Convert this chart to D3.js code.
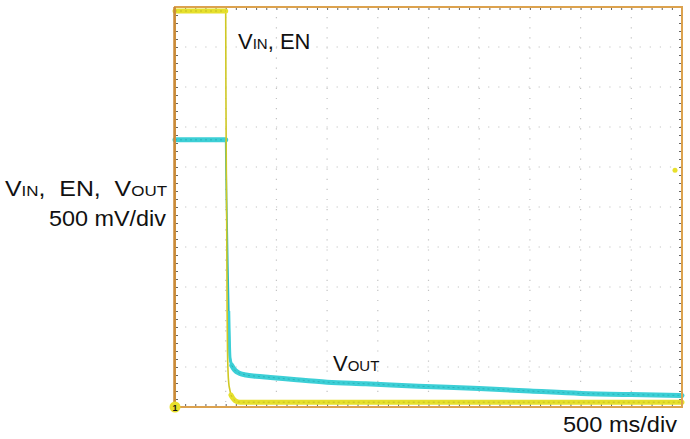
<!DOCTYPE html>
<html>
<head>
<meta charset="utf-8">
<script src="https://cdn.jsdelivr.net/npm/d3@7"></script>
<style>
  html, body { margin: 0; padding: 0; background: #fff; }
  svg { display: block; }
  text { font-family: "Liberation Sans", Arial, sans-serif; fill: #111; }
</style>
</head>
<body>
<div id="chart"></div>
<script>
// ---- data (time in ms, voltage in V) ----
const timeDomain = [0, 5000];      // 10 div x 500 ms/div
const voltDomain = [0, 5];         // 10 div x 500 mV/div
const xDivisions = [0, 500, 1000, 1500, 2000, 2500, 3000, 3500, 4000, 4500, 5000];
const yDivisions = [0, 0.5, 1, 1.5, 2, 2.5, 3, 3.5, 4, 4.5, 5];

// VIN / EN trace (yellow), clipped at top of screen before the fall
const enTime = [0, 500, 502, 506, 510, 514, 518, 523, 530, 540, 552, 570, 592, 640, 5000];
const enVolt = [4.95, 4.95, 4.0, 3.0, 2.3, 1.2, 0.7, 0.45, 0.3, 0.22, 0.15, 0.11, 0.08, 0.06, 0.06];

// VOUT trace (cyan)
const outTime = [0, 500, 503, 508, 513, 520, 530, 542, 560, 590, 640, 700, 800, 940, 1200, 1500, 1880, 2400, 3000, 3500, 4000, 4500, 5000];
const outVolt = [3.34, 3.34, 3.0, 2.6, 2.3, 1.8, 1.2, 0.62, 0.52, 0.46, 0.42, 0.40, 0.385, 0.37, 0.34, 0.31, 0.29, 0.26, 0.23, 0.20, 0.17, 0.155, 0.145];

const triggerLevel = 2.96;

// ---- layout ----
const W = 690, H = 439;
const pL = 175, pR = 682, pT = 7, pB = 407;

const svg = d3.select("#chart").append("svg").attr("width", W).attr("height", H);

const x = d3.scaleLinear().domain(timeDomain).range([pL, pR]);
const y = d3.scaleLinear().domain(voltDomain).range([pB, pT]);

// grid (dotted)
const grid = svg.append("g");
grid.selectAll("line.v").data(xDivisions.slice(1, -1)).join("line")
  .attr("x1", d => x(d)).attr("x2", d => x(d))
  .attr("y1", pT).attr("y2", pB)
  .attr("stroke", "#c4c4c4").attr("stroke-width", 1.2)
  .attr("stroke-dasharray", "1.2,8.9");
grid.selectAll("line.h").data(yDivisions.slice(1, -1)).join("line")
  .attr("x1", pL).attr("x2", pR)
  .attr("y1", d => y(d)).attr("y2", d => y(d))
  .attr("stroke", "#c4c4c4").attr("stroke-width", 1.2)
  .attr("stroke-dasharray", "1.2,8.9");

// minor ticks on border (5 per division) via axes
const xMinor = d3.range(0, 5001, 100);
const yMinor = d3.range(0, 5.001, 0.1);
function tickStyle(g) {
  g.select(".domain").remove();
  g.selectAll(".tick line").attr("stroke", "#666").attr("stroke-width", 1);
  g.selectAll(".tick text").remove();
}
svg.append("g").attr("transform", `translate(0,${pT})`)
  .call(d3.axisBottom(x).tickValues(xMinor).tickSize(3)).call(tickStyle);
svg.append("g").attr("transform", `translate(0,${pB})`)
  .call(d3.axisTop(x).tickValues(xMinor).tickSize(3)).call(tickStyle);
svg.append("g").attr("transform", `translate(${pL},0)`)
  .call(d3.axisRight(y).tickValues(yMinor).tickSize(3)).call(tickStyle);
svg.append("g").attr("transform", `translate(${pR},0)`)
  .call(d3.axisLeft(y).tickValues(yMinor).tickSize(3)).call(tickStyle);

// traces
const line = d3.line().x(d => x(d[0])).y(d => y(d[1])).curve(d3.curveMonotoneX);
const outData = outTime.map((t, i) => [t, outVolt[i]]);
const enData = enTime.map((t, i) => [t, enVolt[i]]);

function band(data, color, dark, w) {
  svg.append("path").datum(data).attr("d", line)
    .attr("fill", "none").attr("stroke", color).attr("stroke-width", w || 5)
    .attr("stroke-linejoin", "round").attr("stroke-linecap", "round");
  svg.append("path").datum(data).attr("d", line)
    .attr("fill", "none").attr("stroke", dark).attr("stroke-width", 1)
    .attr("stroke-dasharray", "2,3").attr("opacity", 0.55);
}
function thin(data, color, w) {
  svg.append("path").datum(data).attr("d", line)
    .attr("fill", "none").attr("stroke", color).attr("stroke-width", w || 1.6)
    .attr("stroke-linejoin", "round");
}

// VOUT: thin edge, thick noisy band where flat
thin(outData, "#2bb8c0", 1.8);
thin(outData.filter(d => d[0] >= 530 && d[0] <= 600), "#3ccfd6", 3);
band(outData.filter(d => d[0] <= 500), "#3ccfd6", "#1d9aa3");
band(outData.filter(d => d[0] >= 560), "#3ccfd6", "#1d9aa3");

// VIN/EN
thin(enData, "#cfc824");
band(enData.filter(d => d[0] <= 500), "#e6e02c", "#a9a21a");
band(enData.filter(d => d[0] >= 552), "#e6e02c", "#a9a21a");

// border
svg.append("rect").attr("x", pL).attr("y", pT)
  .attr("width", pR - pL).attr("height", pB - pT)
  .attr("fill", "none").attr("stroke", "#dca24e").attr("stroke-width", 2);
svg.append("line").attr("x1", pL - 0.5).attr("x2", pL - 0.5)
  .attr("y1", pT).attr("y2", pB)
  .attr("stroke", "#c98a3a").attr("stroke-width", 2.5);

// ground marker "1"
svg.append("circle").attr("cx", x(0)).attr("cy", y(0)).attr("r", 5.5).attr("fill", "#e8e02c");
svg.append("text").attr("x", x(0)).attr("y", y(0) + 3.5).attr("text-anchor", "middle")
  .attr("font-size", 9).attr("font-weight", "bold").text("1");

// trigger marker
svg.append("circle").attr("cx", pR - 7).attr("cy", y(triggerLevel)).attr("r", 2.5).attr("fill", "#e8e02c");

// labels
const fs = 22, sub = 15;
function label(xp, yp, parts, anchor, len) {
  const t = svg.append("text").attr("x", xp).attr("y", yp).attr("font-size", fs)
    .attr("text-anchor", anchor || "start");
  if (len) t.attr("textLength", len).attr("lengthAdjust", "spacingAndGlyphs");
  parts.forEach(p => t.append("tspan").attr("font-size", p[1] ? sub : fs).text(p[0]));
  return t;
}
label(238, 49, [["V", 0], ["IN", 1], [", EN", 0]]);
label(333, 371, [["V", 0], ["OUT", 1]]);
label(167, 196, [["V", 0], ["IN", 1], [",\u00a0 EN,\u00a0 V", 0], ["OUT", 1]], "end", 162);
label(166, 226, [["500 mV/div", 0]], "end", 117);
label(677, 432, [["500 ms/div", 0]], "end", 114);
</script>
</body>
</html>
